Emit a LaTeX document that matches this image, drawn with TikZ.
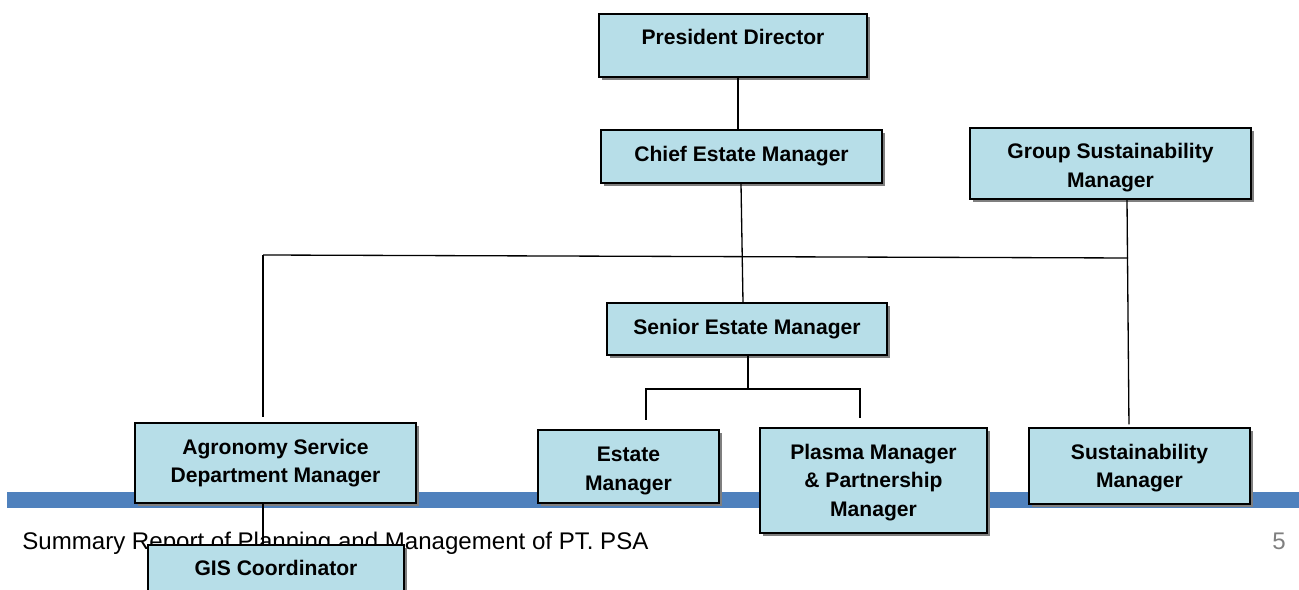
\documentclass[tikz,border=0pt]{standalone}
\usepackage{fontspec}
\setmainfont{Liberation Sans}
\usepackage{tikz}
\usetikzlibrary{shadows, calc, positioning}
\definecolor{boxblue}{HTML}{B7DEE8}
\definecolor{bandblue}{HTML}{4F81BD}
\definecolor{shadowgray}{HTML}{7F7F7F}
\definecolor{pagegray}{HTML}{7F7F7F}

\tikzset{
  post/.style={draw=black, line width=0.8pt, fill=boxblue, align=center,
    font=\fontsize{12}{16}\selectfont\bfseries,
    drop shadow={shadow xshift=1.7pt, shadow yshift=-1.7pt, fill=shadowgray, opacity=1}},
  toptext/.style={minimum height=0pt, inner ysep=3pt, text height=14.4pt, text depth=15.5pt},
  lowtext/.style={text height=#1},
  link/.style={draw=black, line width=0.75pt},
}

\begin{document}
\begin{tikzpicture}[x=0.02cm, y=-0.02cm]
    \useasboundingbox (0,0) rectangle (1299,590);
    \clip (0,0) rectangle (1299,590);

    % page footer: blue rule, title and page number
    \fill[bandblue] (7,492) rectangle (1299,508);
    \node[anchor=base west, inner sep=0pt, font=\fontsize{13.7}{16}\selectfont] (footer) at (22,550)
      {Summary Report of Planning and Management of PT. PSA};
    \node[anchor=base west, inner sep=0pt, text=pagegray, font=\fontsize{13.7}{16}\selectfont] (pageno) at (1272,550) {5};

    % top of the chart
    \node[post, toptext, minimum width=5.36cm] (pres) at (733,45.5) {President Director};
    \node[post, minimum width=5.62cm, minimum height=1.06cm] (chief) at (741.5,156.5) {Chief Estate Manager};
    \node[post, lowtext=29.4pt, minimum width=5.62cm, minimum height=1.42cm] (gsm) at (1110.5,163.5) {Group Sustainability\\Manager};
    \node[post, minimum width=5.6cm, minimum height=1.04cm] (senior) at (747,329) {Senior Estate Manager};

    % bottom row
    \node[post, minimum width=5.62cm, minimum height=1.6cm] (agro) at (275.5,463) {Agronomy Service\\Department Manager};
    \node[post, lowtext=29.4pt, minimum width=3.62cm, minimum height=1.46cm] (est) at (628.5,466.5) {Estate\\Manager};
    \node[post, lowtext=43pt, minimum width=4.54cm, minimum height=2.1cm] (plasma) at (873.5,480.5) {Plasma Manager\\\& Partnership\\Manager};
    \node[post, lowtext=27.1pt, minimum width=4.42cm, minimum height=1.52cm] (sus) at (1139.5,466) {Sustainability\\Manager};
    \node[post, toptext, minimum width=5.12cm] (gis) at (276,576.5) {GIS Coordinator};

    % reporting lines
    \coordinate (busL) at (263,255);
    \coordinate (busR) at (1128,258);
    \coordinate (split) at (748,389);
    \draw[link] (738,0 |- pres.south) -- (738,0 |- chief.north);
    \draw[link] (741,0 |- chief.south) -- (743,0 |- senior.north);
    \draw[link] (busL) -- (busR);
    \draw[link, shorten >=2.8pt] (busL) -- (263,0 |- agro.north);
    \draw[link, shorten >=1.7pt] (1127,0 |- gsm.south) -- (1129,0 |- sus.north);
    \draw[link] (748,0 |- senior.south) -- (split);
    \draw[link, shorten >=5.5pt] (split) -| (646,0 |- est.north);
    \draw[link, shorten >=5.5pt] (split) -| (860,0 |- plasma.north);
    \draw[link] (263,0 |- agro.south) -- (263,0 |- gis.north);
\end{tikzpicture}
\end{document}
